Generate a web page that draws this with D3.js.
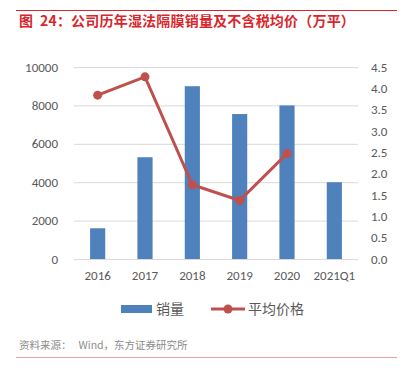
<!DOCTYPE html>
<html><head><meta charset="utf-8">
<script src="https://cdn.jsdelivr.net/npm/d3@7"></script>
<style>body{margin:0;background:#fff;}svg{display:block;}text{white-space:pre;}</style>
</head><body>
<script>
const categories = ["2016","2017","2018","2019","2020","2021Q1"];
const sales = [1600, 5300, 9000, 7550, 8000, 4000];
const prices = [3.84, 4.27, 1.74, 1.37, 2.47, null];
const leftTicks = [0,2000,4000,6000,8000,10000];
const rightTicks = [0,0.5,1,1.5,2,2.5,3,3.5,4,4.5];
const title = "图  24：公司历年湿法隔膜销量及不含税均价（万平）";
const source = "资料来源：   Wind，东方证券研究所";
const legendNames = ["销量","平均价格"];

const W=406,H=370;
const svg=d3.select("body").append("svg").attr("width",W).attr("height",H);
const font='"Microsoft YaHei","Noto Sans CJK SC","Liberation Sans",sans-serif';
const tickFont='Calibri,Carlito,"Liberation Sans","Noto Sans",sans-serif';

svg.append("line").attr("x1",16).attr("x2",397).attr("y1",10.5).attr("y2",10.5).attr("stroke","#d9262c").attr("stroke-width",1);
svg.append("text").attr("x",19).attr("y",26).attr("fill","#d9262c").attr("font-family",font).attr("font-size",14).attr("font-weight","bold").attr("letter-spacing",0.2).text(title);

const x=d3.scaleBand().domain(categories).range([74,358]).paddingInner(0.68).paddingOuter(0.34);
const yL=d3.scaleLinear().domain([0,10000]).range([259,67]);
const yR=d3.scaleLinear().domain([0,4.5]).range([259,67]);

const grid=svg.append("g");
leftTicks.forEach(t=>{
  grid.append("line").attr("x1",74).attr("x2",358).attr("y1",yL(t)+0.5).attr("y2",yL(t)+0.5).attr("stroke","#d9d9d9").attr("stroke-width",1);
});

const axL=d3.axisLeft(yL).tickValues(leftTicks).tickSize(0).tickPadding(0).tickFormat(d3.format("d"));
const gL=svg.append("g").attr("transform","translate(58,0)").call(axL);
gL.select(".domain").remove();
gL.selectAll("text").attr("font-family",tickFont).attr("font-size",13).attr("fill","#595959");

const axR=d3.axisRight(yR).tickValues(rightTicks).tickSize(0).tickPadding(0).tickFormat(d3.format(".1f"));
const gR=svg.append("g").attr("transform","translate(371,0)").call(axR);
gR.select(".domain").remove();
gR.selectAll("text").attr("font-family",tickFont).attr("font-size",13).attr("fill","#595959");

const axB=d3.axisBottom(x).tickSize(0).tickPadding(0);
const gB=svg.append("g").attr("transform","translate(0,271)").call(axB);
gB.select(".domain").remove();
gB.selectAll("text").attr("font-family",tickFont).attr("font-size",13).attr("fill","#595959");

svg.append("g").selectAll("rect").data(sales).join("rect")
  .attr("x",(d,i)=>x(categories[i])).attr("width",x.bandwidth())
  .attr("y",d=>yL(d)).attr("height",d=>yL(0)-yL(d))
  .attr("fill","#4f81bd");

const pts=categories.map((c,i)=>({c,v:prices[i]})).filter(d=>d.v!=null);
const line=d3.line().x(d=>x(d.c)+x.bandwidth()/2).y(d=>yR(d.v));
svg.append("path").datum(pts).attr("d",line).attr("fill","none").attr("stroke","#c0504d").attr("stroke-width",3);
svg.append("g").selectAll("circle").data(pts).join("circle")
  .attr("cx",d=>x(d.c)+x.bandwidth()/2).attr("cy",d=>yR(d.v)).attr("r",4.5).attr("fill","#c0504d");

// legend
const lg=svg.append("g");
lg.append("rect").attr("x",121).attr("y",305).attr("width",31).attr("height",8).attr("fill","#4f81bd");
lg.append("text").attr("x",156).attr("y",314).attr("font-family",font).attr("font-size",14).attr("fill","#595959").text(legendNames[0]);
lg.append("line").attr("x1",211).attr("x2",245).attr("y1",309).attr("y2",309).attr("stroke","#c0504d").attr("stroke-width",3);
lg.append("circle").attr("cx",228).attr("cy",309).attr("r",4.5).attr("fill","#c0504d");
lg.append("text").attr("x",248).attr("y",314).attr("font-family",font).attr("font-size",14).attr("fill","#595959").text(legendNames[1]);

svg.append("text").attr("x",19).attr("y",349).attr("font-family",font).attr("font-size",10.5).attr("fill","#8c8c8c").text(source);
svg.append("line").attr("x1",16).attr("x2",397).attr("y1",357.5).attr("y2",357.5).attr("stroke","#f0a0a0").attr("stroke-width",1);
</script>
</body></html>
